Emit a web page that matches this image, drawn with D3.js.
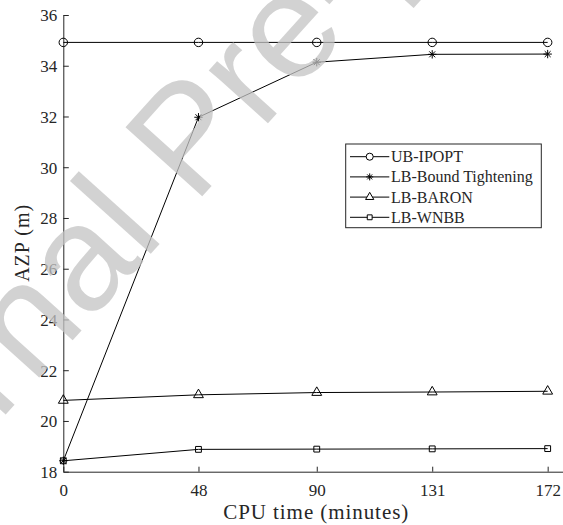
<!DOCTYPE html>
<html>
<head>
<meta charset="utf-8">
<script src="https://cdn.jsdelivr.net/npm/d3@7"></script>
<style>
    body { margin: 0; background: #fff; }
    svg { display: block; }
    text { font-family: "Liberation Serif", "Times New Roman", serif; fill: #262626; }
</style>
</head>
<body>
<div id="chart"></div>
<script>
const cpuTime = [0, 48, 90, 131, 172];
const xTickValues = [0, 48, 90, 131, 172];
const yTickValues = [18, 20, 22, 24, 26, 28, 30, 32, 34, 36];
const seriesNames = ["UB-IPOPT", "LB-Bound Tightening", "LB-BARON", "LB-WNBB"];
const ubIpopt = [34.92, 34.92, 34.92, 34.92, 34.92];
const lbBoundTightening = [18.43, 31.97, 34.14, 34.45, 34.46];
const lbBaron = [20.81, 21.03, 21.12, 21.14, 21.17];
const lbWnbb = [18.43, 18.88, 18.89, 18.90, 18.91];

const width = 563, height = 525;

const svg = d3.select("#chart").append("svg")
    .attr("width", width)
    .attr("height", height);

const x = d3.scaleLinear().domain([0, 180]).range([63.3, 570.2]);
const y = d3.scaleLinear().domain([18, 36]).range([471.7, 15]);

// MATLAB style '*' marker: plus and cross together
const starSymbol = {
    draw(ctx, size) {
        const r = Math.sqrt(size) / 2;
        const d = r * Math.SQRT1_2;
        ctx.moveTo(-r, 0); ctx.lineTo(r, 0);
        ctx.moveTo(0, -r); ctx.lineTo(0, r);
        ctx.moveTo(-d, -d); ctx.lineTo(d, d);
        ctx.moveTo(-d, d); ctx.lineTo(d, -d);
    }
};

const series = [
    {name: seriesNames[0], values: ubIpopt, symbol: d3.symbolCircle, size: 56},
    {name: seriesNames[1], values: lbBoundTightening, symbol: starSymbol, size: 70},
    {name: seriesNames[2], values: lbBaron, symbol: d3.symbolTriangle, size: 42},
    {name: seriesNames[3], values: lbWnbb, symbol: d3.symbolSquare, size: 34}
];

// axes (ticks pointing inward)
svg.append("g")
    .attr("transform", `translate(0,${y(18)})`)
    .call(d3.axisBottom(x).tickValues(xTickValues).tickSizeInner(-5).tickSizeOuter(0).tickPadding(12))
    .call(g => g.select(".domain").attr("stroke", "#262626"))
    .call(g => g.selectAll(".tick line").attr("stroke", "#262626"))
    .call(g => g.selectAll("text").attr("font-size", 17).attr("fill", "#262626")
        .attr("font-family", "Liberation Serif").attr("y", 24).attr("dy", 0));

svg.append("g")
    .attr("transform", `translate(${x(0)},0)`)
    .call(d3.axisLeft(y).tickValues(yTickValues).tickSizeInner(-5.5).tickSizeOuter(0).tickPadding(0))
    .call(g => g.select(".domain").attr("stroke", "#262626"))
    .call(g => g.selectAll(".tick line").attr("stroke", "#262626"))
    .call(g => g.selectAll("text").attr("font-size", 17).attr("fill", "#262626")
        .attr("font-family", "Liberation Serif").attr("x", -6).attr("dy", "0.35em"));

svg.append("text")
    .attr("x", x(90) - 1)
    .attr("y", 519)
    .attr("text-anchor", "middle")
    .attr("font-size", 21)
    .attr("textLength", 185)
    .attr("lengthAdjust", "spacing")
    .text("CPU time (minutes)");

svg.append("text")
    .attr("transform", `translate(29,${(y(18) + y(36)) / 2}) rotate(-90)`)
    .attr("text-anchor", "middle")
    .attr("font-size", 20)
    .attr("textLength", 77)
    .attr("lengthAdjust", "spacing")
    .text("AZP (m)");

const line = d3.line()
    .x((d, i) => x(cpuTime[i]))
    .y(d => y(d));

series.forEach(s => {
    svg.append("path")
        .datum(s.values)
        .attr("fill", "none")
        .attr("stroke", "#000")
        .attr("stroke-width", 1)
        .attr("d", line);

    svg.selectAll(null)
        .data(s.values)
        .join("path")
        .attr("transform", (d, i) => `translate(${x(cpuTime[i])},${y(d)})`)
        .attr("d", d3.symbol().type(s.symbol).size(s.size))
        .attr("fill", "none")
        .attr("stroke", "#000")
        .attr("stroke-width", 1);
});

// legend
const legend = svg.append("g");
legend.append("rect")
    .attr("x", 345.7)
    .attr("y", 144)
    .attr("width", 195.6)
    .attr("height", 83.7)
    .attr("fill", "#fff")
    .attr("stroke", "#262626")
    .attr("stroke-width", 1);

const legendRow = d3.scaleLinear().domain([0, 3]).range([156.7, 217.3]);

series.forEach((s, i) => {
    const g = legend.append("g").attr("transform", `translate(0,${legendRow(i)})`);
    g.append("line")
        .attr("x1", 350).attr("x2", 389.3)
        .attr("stroke", "#000").attr("stroke-width", 1);
    g.append("path")
        .attr("transform", "translate(369.7,0)")
        .attr("d", d3.symbol().type(s.symbol).size(s.size * 0.7))
        .attr("fill", "#fff")
        .attr("stroke", "#000")
        .attr("stroke-width", 1);
    g.append("text")
        .attr("x", 391)
        .attr("y", 5.5)
        .attr("font-size", 16)
        .attr("fill", "#000")
        .text(s.name);
});

// "Journal Pre-proof" watermark laid over the figure
svg.append("text")
    .attr("transform", "translate(-163,602) rotate(-48)")
    .attr("font-family", "Liberation Sans")
    .attr("font-size", 150)
    .style("font-family", "'Liberation Sans', Arial, sans-serif")
    .style("fill", "#c4c4c4")
    .attr("opacity", 0.75)
    .text("Journal Pre-proof");
</script>
</body>
</html>
